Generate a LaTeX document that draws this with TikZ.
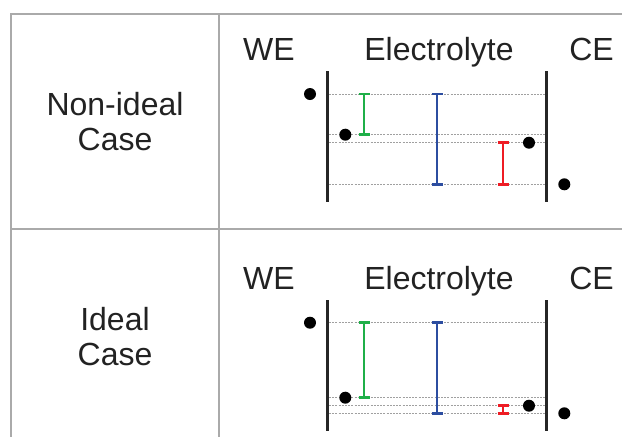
\documentclass[tikz,border=0pt]{standalone}
\usepackage{fontspec}
\setmainfont{Liberation Sans}
\definecolor{gridgray}{HTML}{AAAAAA}
\definecolor{txt}{HTML}{222222}
\definecolor{bgreen}{HTML}{1FAF48}
\definecolor{bblue}{HTML}{2C4DA0}
\definecolor{bred}{HTML}{EE1C24}
\definecolor{dotline}{HTML}{A0A0A0}
\tikzset{
  grid/.style={draw=gridgray, line width=1.7pt},
  lbl/.style={font=\fontsize{32}{35}\selectfont, text=txt, inner sep=0pt, anchor=base},
  caselbl/.style={lbl, align=center},
  electrode/.style={draw=black!85, line width=2.7pt},
  level/.style={draw=dotline, line width=0.9pt, dash pattern=on 2pt off 1.2pt},
  carrier/.style={circle, fill=black, inner sep=0pt, minimum size=12pt},
  barline/.style={line width=2.8pt},
}
\begin{document}
\begin{tikzpicture}[x=1pt,y=-1pt]
\useasboundingbox (0,0) rectangle (622,437);
% table grid
\draw[grid] (10.7,437) -- (10.7,13.7) -- (622,13.7);
\draw[grid] (219.3,13.7) -- (219.3,437);
\draw[grid] (10.7,229) -- (622,229);

% row labels (base anchor = last line)
\node[caselbl] (nonideal) at (115,150) {Non-ideal\\Case};
\node[caselbl] (ideal) at (115,365) {Ideal\\Case};

\foreach \off/\tag/\ya/\yb/\yc/\yd in {0/t/94/134.7/142.7/184.3, 229/b/93.7/168.7/176.7/184.3}{
  \node[lbl] (we\tag) at (269,60+\off) {WE};
  \node[lbl] (el\tag) at (439,60+\off) {Electrolyte};
  \node[lbl] (ce\tag) at (591.5,60+\off) {CE};
  \coordinate (wetop\tag) at (327.3,71+\off);
  \coordinate (webot\tag) at (327.3,202+\off);
  \coordinate (cetop\tag) at (546.7,71+\off);
  \coordinate (cebot\tag) at (546.7,202+\off);
  % energy levels
  \coordinate (la\tag) at (329,\ya+\off);  \coordinate (ra\tag) at (545,\ya+\off);
  \coordinate (lb\tag) at (329,\yb+\off);  \coordinate (rb\tag) at (545,\yb+\off);
  \coordinate (lc\tag) at (329,\yc+\off);  \coordinate (rc\tag) at (545,\yc+\off);
  \coordinate (ld\tag) at (329,\yd+\off);  \coordinate (rd\tag) at (545,\yd+\off);
  \draw[level] (la\tag) -- (ra\tag);
  \draw[level] (lb\tag) -- (rb\tag);
  \draw[level] (lc\tag) -- (rc\tag);
  \draw[level] (ld\tag) -- (rd\tag);
  % electrodes
  \draw[electrode] (wetop\tag) -- (webot\tag);
  \draw[electrode] (cetop\tag) -- (cebot\tag);
  % bars
  \coordinate (g1\tag) at (364,\ya+\off); \coordinate (g2\tag) at (364,\yb+\off);
  \coordinate (b1\tag) at (437,\ya+\off); \coordinate (b2\tag) at (437,\yd+\off);
  \coordinate (r1\tag) at (503,\yc+\off); \coordinate (r2\tag) at (503,\yd+\off);
  \foreach \c/\p/\q in {bgreen/g1/g2, bblue/b1/b2, bred/r1/r2}{
    \draw[barline, draw=\c] (\p\tag) -- (\q\tag);
    \draw[barline, draw=\c] ([xshift=-5.5pt]\p\tag) -- ([xshift=5.5pt]\p\tag);
    \draw[barline, draw=\c] ([xshift=-5.5pt]\q\tag) -- ([xshift=5.5pt]\q\tag);
  }
  % carriers
  \node[carrier] (d1\tag) at (310,\ya+\off) {};
  \node[carrier] (d2\tag) at (345.3,\yb+\off) {};
  \node[carrier] (d3\tag) at (529,\yc+\off) {};
  \node[carrier] (d4\tag) at (564.3,\yd+\off) {};
}
\end{tikzpicture}
\end{document}
